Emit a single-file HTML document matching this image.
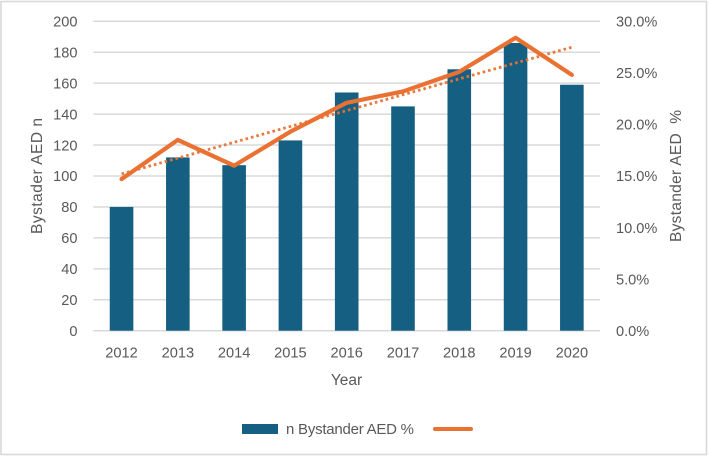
<!DOCTYPE html>
<html>
<head>
<meta charset="utf-8">
<style>
html,body{margin:0;padding:0;background:#fff;}
svg{display:block;}
text{font-family:"Liberation Sans",sans-serif;fill:#595959;font-size:14.6px;}
</style>
</head>
<body>
<svg id="chart" width="710" height="457" viewBox="0 0 710 457" xmlns="http://www.w3.org/2000/svg">
<rect x="1" y="1.5" width="705.5" height="453" fill="#ffffff" stroke="#d9d9d9" stroke-width="1.6"/>
<g id="grid"></g>
<g id="bars"></g>
<g id="lines"></g>
<g id="labels"></g>
<text transform="translate(42 176) rotate(-90)" text-anchor="middle" textLength="116" style="font-size:15.5px">Bystader AED n</text>
<text transform="translate(681 176) rotate(-90)" text-anchor="middle" textLength="132" style="font-size:15.5px">Bystander AED &#160;%</text>
<text x="346.5" y="385" text-anchor="middle" style="font-size:15.5px">Year</text>
<rect x="242" y="424" width="36" height="10" fill="#156082"/>
<text x="286" y="434" textLength="128" style="font-size:15px">n Bystander AED %</text>
<line x1="435" y1="429" x2="471" y2="429" stroke="#e97132" stroke-width="4" stroke-linecap="round"/>
</svg>
<script>
const years = [2012,2013,2014,2015,2016,2017,2018,2019,2020];
const countValues = [80,112,107,123,154,145,169,186,159];
const percentValues = [14.7,18.5,16.0,19.3,22.1,23.2,25.1,28.4,24.8];
const leftTicks = [0,20,40,60,80,100,120,140,160,180,200];
const rightTicks = [0,5,10,15,20,25,30];

const NS = 'http://www.w3.org/2000/svg';
const plot = {left:93.4, right:600, top:21.3, bottom:330.7};
const step = (plot.right - plot.left) / years.length;
function xScale(i){ return plot.left + step * (i + 0.5); }
function yLeft(v){ return plot.bottom - (plot.bottom - plot.top) * v / 200; }
function yRight(v){ return plot.bottom - (plot.bottom - plot.top) * v / 30; }
function make(tag, attrs, parent){
  const el = document.createElementNS(NS, tag);
  for (const k in attrs) el.setAttribute(k, attrs[k]);
  document.getElementById(parent).appendChild(el);
  return el;
}

leftTicks.forEach(function(t){
  const g = make('line', {x1:plot.left, x2:plot.right, y1:yLeft(t), y2:yLeft(t), stroke:'#d9d9d9', 'stroke-width':1.5}, 'grid');
  
  
  const l = make('text', {x:77.5, y:yLeft(t) + 5.2, 'text-anchor':'end'}, 'labels');
  l.textContent = t;
  
  
});
rightTicks.forEach(function(t){
  const l = make('text', {x:616, y:yRight(t) + 5.2}, 'labels');
  l.textContent = t.toFixed(1) + '%';
  
  
});
years.forEach(function(y, i){
  const b = make('rect', {x:xScale(i) - 11.8, width:23.6, y:yLeft(countValues[i]), height:plot.bottom - yLeft(countValues[i]), fill:'#156082'}, 'bars');
  
  
  const l = make('text', {x:xScale(i), y:357.5, 'text-anchor':'middle'}, 'labels');
  l.textContent = y;
  
  
});

const n = percentValues.length;
const meanI = (n - 1) / 2;
const meanV = percentValues.reduce(function(a, b){ return a + b; }, 0) / n;
let sxy = 0, sxx = 0;
percentValues.forEach(function(v, i){ sxy += (i - meanI) * (v - meanV); sxx += (i - meanI) * (i - meanI); });
const slope = sxy / sxx;
function trend(i){ return meanV + slope * (i - meanI); }

const trendLine = make('line', {x1:xScale(0), y1:yRight(trend(0)), x2:xScale(n - 1), y2:yRight(trend(n - 1)), stroke:'#e97132', 'stroke-width':2.8, 'stroke-dasharray':'2.6 3', 'stroke-opacity':0.95}, 'lines');



const pts = percentValues.map(function(v, i){ return xScale(i) + ',' + yRight(v); }).join(' ');
const line = make('polyline', {points:pts, fill:'none', stroke:'#e97132', 'stroke-width':4.2, 'stroke-linejoin':'round', 'stroke-linecap':'round'}, 'lines');


</script>
</body>
</html>
